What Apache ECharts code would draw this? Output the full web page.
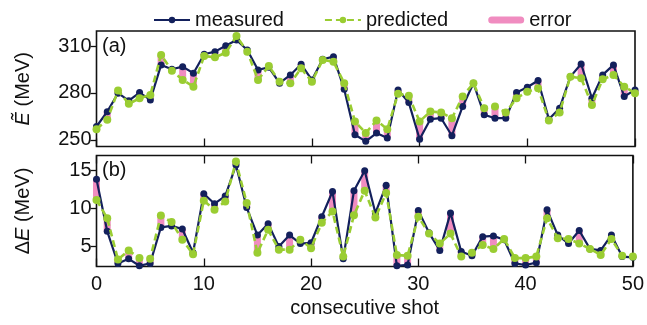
<!DOCTYPE html>
<html>
<head>
<meta charset="utf-8">
<script src="https://cdn.jsdelivr.net/npm/echarts@6/dist/echarts.min.js"></script>
<style>
  html, body { margin: 0; padding: 0; background: #fff; }
  #chart { width: 647px; height: 325px; }
</style>
</head>
<body>
<div id="chart"></div>
<script>
// consecutive shot index 0..50
const shots = Array.from({ length: 51 }, (_, i) => i);

// (a) mean energy, MeV
const energyMeasured = [
  258.5, 268, 279.8, 275, 280.2, 275.5, 297.9, 295.1, 296.8, 292.6,
  304.7, 306.4, 310.2, 313.8, 307.4, 294.7, 296.4, 286.2, 291.5, 298.3,
  288.3, 301.5, 303.2, 282.3, 253.2, 249, 254.3, 251.1, 281.9, 273.8,
  250.4, 263.2, 263.8, 252.6, 271.3, 286.2, 266, 263.8, 263.8, 280.2,
  283.6, 287.9, 263.2, 270.2, 290.4, 298.5, 276.6, 291.5, 297.9, 277.7,
  281.9
];
const energyPredicted = [
  256.8, 262.8, 281.5, 273, 276.6, 278.7, 304.3, 294.2, 288.3, 284,
  303.6, 302.8, 305.7, 316.4, 306.4, 288.3, 297.2, 287.2, 286.2, 295.7,
  287.2, 301.1, 300, 286.2, 261.7, 254.3, 262.3, 256.8, 279.4, 278.1,
  261.7, 268.1, 267.5, 263.8, 277.7, 286.2, 270.2, 271.3, 267.5, 276.6,
  280.8, 283, 262.3, 267.5, 290.4, 289.4, 272.3, 288.7, 291.5, 284,
  279.8
];

// (b) energy spread, MeV
const spreadMeasured = [
  13.8, 7.0, 2.8, 3.4, 2.5, 2.8, 7.5, 7.7, 7.3, 4.2,
  11.9, 10.6, 11.6, 15.65, 10.1, 6.5, 8.0, 5.0, 6.5, 5.4,
  5.5, 8.9, 12.2, 3.4, 12.3, 14.9, 9.4, 13.0, 2.5, 2.6,
  9.7, 6.8, 4.5, 9.4, 4.35, 3.8, 6.3, 6.4, 5.9, 2.8,
  2.6, 2.9, 9.8, 6.5, 5.4, 7.1, 4.7, 4.5, 6.5, 3.7,
  3.6
];
const spreadPredicted = [
  11.1, 8.7, 3.3, 4.5, 3.5, 3.4, 9.05, 8.2, 5.9, 4.0,
  11.0, 9.8, 10.9, 16.1, 10.7, 4.2, 7.2, 4.6, 4.6, 5.9,
  4.8, 8.1, 9.6, 3.7, 9.1, 12.3, 8.8, 12.0, 3.9, 3.8,
  8.9, 6.7, 5.4, 6.7, 3.7, 4.2, 5.2, 4.7, 6.0, 3.5,
  3.5, 3.7, 8.7, 6.1, 6.0, 5.4, 4.7, 3.9, 6.0, 3.8,
  3.7
];

const energyTicks = [250, 280, 310];
const spreadTicks = [5, 10, 15];

const NAVY = '#13205c';
const GREEN = '#9acd32';
const PINK = '#f08cc0';
const FONT = 'Liberation Sans';

const chart = echarts.init(document.getElementById('chart'), null, { renderer: 'canvas' });

const pair = (m, p) => shots.map((x, i) => [x, m[i], p[i]]);
const pts = (v) => shots.map((x, i) => [x, v[i]]);

const errorRender = (params, api) => {
  const a = api.coord([api.value(0), api.value(1)]);
  const b = api.coord([api.value(0), api.value(2)]);
  return {
    type: 'line',
    shape: { x1: a[0], y1: a[1], x2: b[0], y2: b[1] },
    style: { stroke: PINK, lineWidth: 7, lineCap: 'butt' },
  };
};

const lineSeries = (name, data, idx) => {
  const isPred = name === 'predicted';
  return {
    name,
    type: 'line',
    xAxisIndex: idx,
    yAxisIndex: idx,
    data,
    symbol: 'circle',
    symbolSize: isPred ? 8 : 7,
    showSymbol: true,
    z: isPred ? 4 : 3,
    animation: false,
    lineStyle: {
      color: isPred ? GREEN : NAVY,
      width: isPred ? 2.6 : 2.2,
      type: isPred ? [7, 4] : 'solid',
    },
    itemStyle: { color: isPred ? GREEN : NAVY },
  };
};

const xBase = {
  type: 'value',
  min: 0,
  max: 50,
  interval: 10,
  splitLine: { show: false },
  axisLine: { show: false },
  axisTick: { inside: true, length: 8, lineStyle: { color: '#111', width: 1.3 } },
};

const yBase = {
  type: 'value',
  splitLine: { show: false },
  axisLine: { show: false },
  nameLocation: 'middle',
  nameGap: 63,
  nameRotate: 90,
  axisTick: { length: 6, lineStyle: { color: '#111', width: 1.3 } },
  axisLabel: { color: '#111', fontSize: 20, fontFamily: FONT, margin: 5 },
};

const option = {
  animation: false,
  backgroundColor: '#fff',
  textStyle: { fontFamily: FONT },
  legend: {
    left: 148,
    top: 5,
    itemWidth: 36,
    itemHeight: 8,
    itemGap: 40,
    textStyle: { fontSize: 20, color: '#111', fontFamily: FONT },
    data: [
      { name: 'measured' },
      { name: 'predicted' },
      { name: 'error', icon: 'path://M4,0 H36 A4,4 0 0 1 36,8 H4 A4,4 0 0 1 4,0 Z', itemStyle: { color: PINK } },
    ],
  },
  grid: [
    { left: 96.5, right: 12, top: 31, height: 115.5, show: true, borderColor: '#111', borderWidth: 1.6, backgroundColor: 'transparent' },
    { left: 96.5, right: 12, top: 155.5, height: 111, show: true, borderColor: '#111', borderWidth: 1.6, backgroundColor: 'transparent' },
  ],
  xAxis: [
    { ...xBase, gridIndex: 0, position: 'bottom', axisLabel: { show: false } },
    {
      ...xBase,
      gridIndex: 1,
      position: 'bottom',
      name: 'consecutive shot',
      nameLocation: 'middle',
      nameGap: 32,
      nameTextStyle: { fontSize: 20, color: '#111', fontFamily: FONT },
      axisLabel: { color: '#111', fontSize: 20, fontFamily: FONT, margin: 8 },
    },
    { ...xBase, gridIndex: 1, position: 'top', axisLabel: { show: false } },
  ],
  yAxis: [
    {
      ...yBase,
      gridIndex: 0,
      min: 245.7,
      max: 319.6,
      name: '{i|Ẽ} (MeV)',
      nameTextStyle: {
        fontSize: 20, color: '#111', fontFamily: FONT,
        rich: { i: { fontStyle: 'italic', fontSize: 20, color: '#111', fontFamily: FONT } },
      },
      axisTick: { ...yBase.axisTick, customValues: energyTicks },
      axisLabel: { ...yBase.axisLabel, customValues: energyTicks },
    },
    {
      ...yBase,
      gridIndex: 1,
      min: 2.4,
      max: 16.9,
      name: 'Δ{i|E} (MeV)',
      nameTextStyle: {
        fontSize: 20, color: '#111', fontFamily: FONT,
        rich: { i: { fontStyle: 'italic', fontSize: 20, color: '#111', fontFamily: FONT } },
      },
      axisTick: { ...yBase.axisTick, customValues: spreadTicks },
      axisLabel: { ...yBase.axisLabel, customValues: spreadTicks },
    },
  ],
  graphic: [
    { type: 'text', left: 102, top: 36, style: { text: '(a)', fontSize: 20, fontFamily: FONT, fill: '#111' } },
    { type: 'text', left: 102, top: 160, style: { text: '(b)', fontSize: 20, fontFamily: FONT, fill: '#111' } },
  ],
  series: [
    {
      name: 'error', type: 'custom', xAxisIndex: 0, yAxisIndex: 0, z: 2,
      itemStyle: { color: PINK },
      renderItem: errorRender, data: pair(energyMeasured, energyPredicted),
    },
    {
      name: 'error', type: 'custom', xAxisIndex: 1, yAxisIndex: 1, z: 2,
      itemStyle: { color: PINK },
      renderItem: errorRender, data: pair(spreadMeasured, spreadPredicted),
    },
    lineSeries('measured', pts(energyMeasured), 0),
    lineSeries('predicted', pts(energyPredicted), 0),
    lineSeries('measured', pts(spreadMeasured), 1),
    lineSeries('predicted', pts(spreadPredicted), 1),
  ],
};

chart.setOption(option);
window.addEventListener('resize', () => chart.resize());
</script>
</body>
</html>
